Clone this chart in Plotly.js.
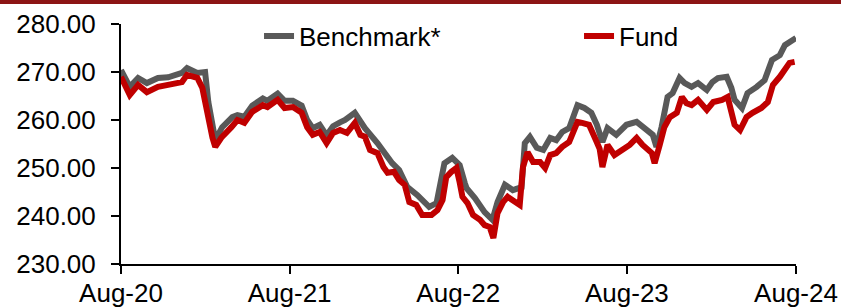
<!DOCTYPE html>
<html>
<head>
<meta charset="utf-8">
<script src="https://cdn.plot.ly/plotly-3.0.1.min.js"></script>
<style>
html,body{margin:0;padding:0;background:#fff;}
#chart{width:841px;height:308px;}
</style>
</head>
<body>
<div id="chart"></div>
<script>
const seriesNames = ["Benchmark*", "Fund"];

const benchDates = [
"2020-08-01","2020-08-20","2020-09-07","2020-09-26","2020-10-20","2020-11-11","2020-12-11","2020-12-22",
"2021-01-13","2021-01-30","2021-02-06","2021-02-17","2021-02-21","2021-03-08","2021-03-30","2021-04-10",
"2021-04-25","2021-05-12","2021-06-04","2021-06-14","2021-07-06","2021-07-21","2021-08-08","2021-08-27",
"2021-09-08","2021-09-20","2021-10-05","2021-10-20","2021-11-03","2021-11-18","2021-11-29","2021-12-20",
"2022-01-11","2022-02-07","2022-02-18","2022-03-11","2022-03-26","2022-04-13","2022-05-04","2022-05-30",
"2022-06-15","2022-07-02","2022-07-19","2022-08-04","2022-08-15","2022-08-19","2022-09-06","2022-09-27",
"2022-10-14","2022-10-25","2022-11-10","2022-11-27","2022-12-16","2022-12-23","2023-01-03","2023-01-18",
"2023-02-01","2023-02-16","2023-03-01","2023-03-14","2023-03-29","2023-04-05","2023-04-16","2023-05-01",
"2023-05-16","2023-05-28","2023-06-09","2023-06-20","2023-07-09","2023-07-31","2023-08-22","2023-09-08",
"2023-09-26","2023-10-04","2023-10-15","2023-10-28","2023-11-08","2023-11-23","2023-12-04","2023-12-19",
"2024-01-02","2024-01-21","2024-02-02","2024-02-14","2024-03-04","2024-03-14","2024-03-21","2024-04-06",
"2024-04-18","2024-05-08","2024-05-25","2024-06-10","2024-06-27","2024-07-08","2024-07-22","2024-08-01"
];
const benchValues = [
270.4,266.9,268.75,267.7,268.75,268.9,269.8,270.8,
269.8,270.0,263.75,257.5,255.8,258.5,260.6,261.0,
260.7,263.0,264.5,264.0,265.5,264.0,264.0,263.0,
260.0,258.3,259.0,256.8,258.7,259.5,260.0,261.5,
258.3,255.2,253.75,251.0,249.6,246.0,244.4,241.9,
242.7,251.0,252.1,250.6,246.9,245.8,243.75,240.8,
239.2,242.9,246.5,245.4,246.0,255.2,256.5,254.2,
253.75,256.25,255.8,257.5,258.3,260.6,263.1,262.5,
261.5,259.0,255.4,258.3,256.9,259.0,259.6,258.3,
256.9,254.4,258.5,264.8,265.6,268.75,267.7,266.9,
267.7,266.25,267.9,268.75,269.0,266.7,264.2,262.5,
265.6,266.9,268.3,272.5,273.5,275.6,276.7,277.1
];

const fundDates = [
"2020-08-01","2020-08-20","2020-09-07","2020-09-26","2020-10-20","2020-11-11","2020-12-11","2020-12-22",
"2021-01-13","2021-01-24","2021-02-04","2021-02-15","2021-02-21","2021-03-06","2021-03-28","2021-04-10",
"2021-04-25","2021-05-12","2021-06-04","2021-06-14","2021-07-06","2021-07-21","2021-08-08","2021-08-27",
"2021-09-08","2021-09-20","2021-10-05","2021-10-20","2021-11-03","2021-11-18","2021-12-03","2021-12-20",
"2022-01-01","2022-01-11","2022-01-22","2022-02-07","2022-02-20","2022-03-01","2022-03-15","2022-03-26",
"2022-04-07","2022-04-17","2022-05-02","2022-05-15","2022-06-04","2022-06-17","2022-06-28","2022-07-06",
"2022-07-17","2022-07-28","2022-08-04","2022-08-10","2022-08-21","2022-09-02","2022-09-17","2022-09-27",
"2022-10-08","2022-10-16","2022-10-25","2022-11-06","2022-11-16","2022-11-27","2022-12-12","2022-12-19",
"2022-12-29","2023-01-10","2023-01-25","2023-02-05","2023-02-16","2023-03-01","2023-03-14","2023-03-29",
"2023-04-05","2023-04-16","2023-04-26","2023-05-11","2023-05-26","2023-06-03","2023-06-09","2023-06-20",
"2023-07-05","2023-07-22","2023-08-07","2023-08-22","2023-09-04","2023-09-24","2023-09-30","2023-10-11",
"2023-10-21","2023-11-02","2023-11-17","2023-11-28","2023-12-08","2023-12-19","2024-01-02","2024-01-21",
"2024-02-04","2024-02-23","2024-03-06","2024-03-14","2024-03-21","2024-04-02","2024-04-16","2024-04-29",
"2024-05-18","2024-06-01","2024-06-12","2024-06-27","2024-07-08","2024-07-18","2024-07-29"
];
const fundValues = [
269.0,265.2,267.3,265.8,266.9,267.3,267.9,269.4,
268.8,266.7,261.0,256.3,254.4,256.3,258.5,260.0,
259.4,261.7,263.1,262.7,264.2,262.5,262.7,261.5,
258.5,256.9,257.5,255.2,257.3,257.9,257.3,259.4,
256.9,256.5,253.75,253.1,250.2,249.0,249.2,247.5,
246.5,242.9,242.3,240.2,240.2,241.25,243.3,248.1,
249.2,250.0,247.0,244.0,242.7,240.2,239.2,238.1,
237.7,235.4,240.6,242.9,244.0,243.3,242.3,250.2,
253.3,251.25,251.25,250.0,252.7,253.1,254.4,255.4,
257.3,259.6,259.4,259.0,255.8,254.0,250.2,254.8,
252.7,253.75,254.8,256.25,254.8,253.1,251.0,254.8,
258.5,260.6,261.5,264.8,263.5,263.1,264.2,262.1,
263.75,264.2,264.8,261.7,259.0,257.9,260.6,261.5,
262.5,263.75,267.3,269.0,270.4,271.9,272.1
];

const tickDates = ["2020-08-01","2021-08-01","2022-08-01","2023-08-01","2024-08-01"];
const tickLabels = ["Aug-20","Aug-21","Aug-22","Aug-23","Aug-24"];
const yTickValues = [230,240,250,260,270,280];

const FONT = "Liberation Sans, Arial, sans-serif";

const traces = [
  {x: benchDates, y: benchValues, name: seriesNames[0], type: "scatter", mode: "lines",
   line: {color: "#595959", width: 6}},
  {x: fundDates, y: fundValues, name: seriesNames[1], type: "scatter", mode: "lines",
   line: {color: "#C00000", width: 6}}
];

const layout = {
  width: 841, height: 308,
  margin: {l: 121, r: 45, t: 24, b: 44, pad: 0, autoexpand: false},
  paper_bgcolor: "#ffffff", plot_bgcolor: "#ffffff",
  font: {family: FONT, size: 26, color: "#000000"},
  showlegend: true,
  legend: {orientation: "h", xref: "container", yref: "container", x: 0.308, y: 1 - 36/308,
           xanchor: "left", yanchor: "middle",
           entrywidth: 275, entrywidthmode: "pixels", font: {family: FONT, size: 26, color: "#000"},
           bgcolor: "rgba(0,0,0,0)", traceorder: "normal", itemwidth: 30},
  xaxis: {type: "date", range: ["2020-08-01", "2024-08-01"], tickmode: "array",
          tickvals: tickDates, ticktext: tickLabels, showgrid: false, zeroline: false,
          showline: true, linecolor: "#000", linewidth: 2, ticks: "outside", ticklen: 8,
          tickwidth: 2, tickcolor: "#000", ticklabelstandoff: -3,
          tickfont: {family: FONT, size: 26, color: "#000"}},
  yaxis: {range: [230, 280], tickmode: "array", tickvals: yTickValues, tickformat: ".2f",
          showgrid: false, zeroline: false, showline: true, linecolor: "#000", linewidth: 2,
          ticks: "outside", ticklen: 8, tickwidth: 2, tickcolor: "#000", ticklabelstandoff: 10,
          tickfont: {family: FONT, size: 26, color: "#000"}},
  shapes: [
    {type: "rect", xref: "paper", yref: "paper", x0: -121/675, x1: 720/675,
     ysizemode: "pixel", yanchor: 1, y0: 20, y1: 24.5, fillcolor: "#8C1515", line: {width: 0}, layer: "above"}
  ]
};

Plotly.newPlot("chart", traces, layout, {staticPlot: true, displayModeBar: false});
</script>
</body>
</html>
